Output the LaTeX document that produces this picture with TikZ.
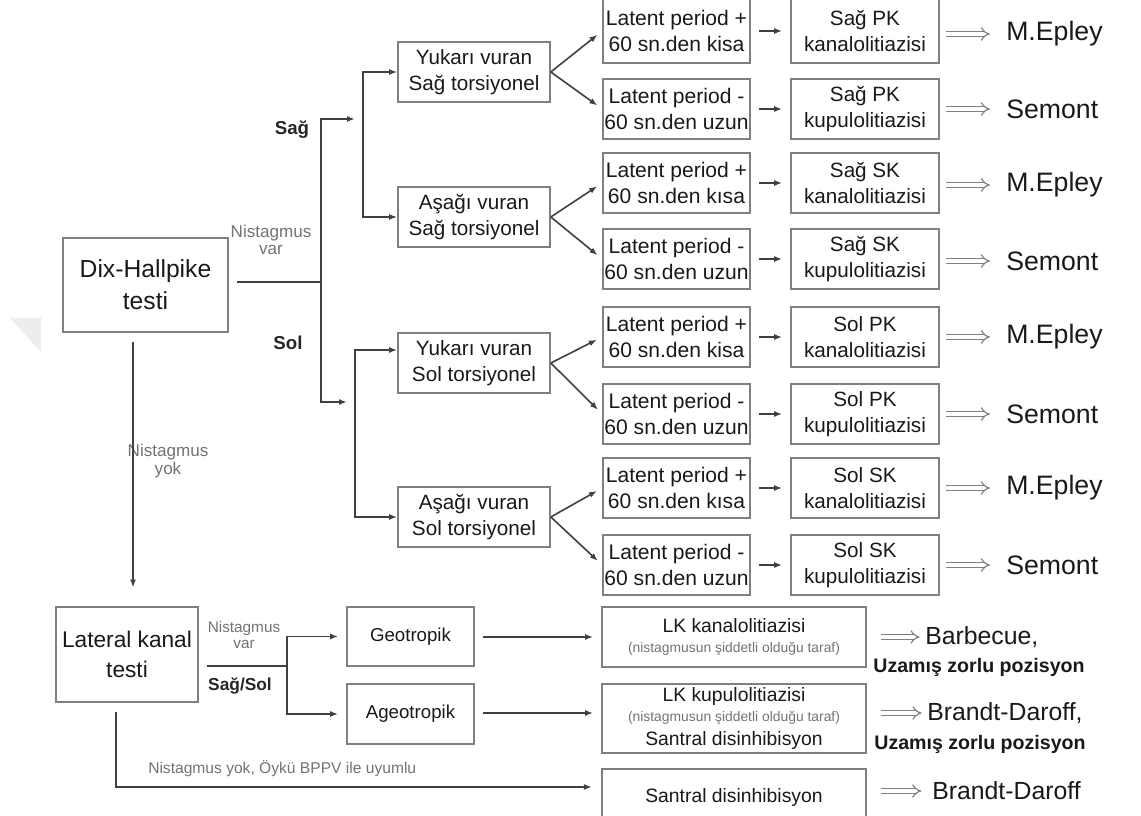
\documentclass[tikz,border=0pt]{standalone}
\usepackage{fontspec}
\setmainfont{Liberation Sans}
\usetikzlibrary{arrows.meta}

\begin{document}
\begin{tikzpicture}[x=0.75pt,y=0.75pt,yscale=-1,xscale=1,
	box/.style={draw=black!50, line width=1.2pt, align=center, text=black!90, inner sep=0pt},
	midbox/.style={box, minimum width=114pt, minimum height=45pt, font=\fontsize{15.5}{19}\selectfont},
	latbox/.style={box, minimum width=110.25pt, minimum height=45pt, font=\fontsize{15.8}{19}\selectfont},
	diagbox/.style={box, minimum width=111pt, minimum height=45pt, font=\fontsize{15.5}{19}\selectfont},
	lkbox/.style={box, minimum width=198pt, font=\fontsize{14.5}{18}\selectfont},
	trt/.style={anchor=west, inner sep=0pt, text=black!90, font=\fontsize{20}{24}\selectfont},
	lbl/.style={inner sep=0pt, align=center, text=black!55, font=\fontsize{12.8}{13}\selectfont},
	side/.style={inner sep=0pt, text=black!85, font=\bfseries\fontsize{14}{16}\selectfont},
	line/.style={draw=black!75, line width=1.2pt},
	arr/.style={line, -{Latex[length=6pt,width=4.5pt]}},
	dbl/.style={draw=black!50, double=white, double distance=2.6pt, line width=0.9pt, -{Implies}}]
		\clip (0,0) rectangle (1141,816);
		\fill[black!7] (10,318) -- (41,318) -- (41,352) -- cycle;

		\node[box, minimum width=123.75pt, minimum height=70.5pt, font=\fontsize{18.5}{24}\selectfont] (dix) at (145.5,285) {Dix-Hallpike\\testi};
		\node[box, minimum width=106.5pt, minimum height=71.25pt, font=\fontsize{17}{23}\selectfont] (lat) at (127,654.5) {Lateral kanal\\testi};

		\node[midbox] (yuk1) at (474,72) {Yukarı vuran\\Sağ torsiyonel};
		\node[midbox] (asa1) at (474,217) {Aşağı vuran\\Sağ torsiyonel};
		\node[midbox] (yuk2) at (474,363) {Yukarı vuran\\Sol torsiyonel};
		\node[midbox] (asa2) at (474,517) {Aşağı vuran\\Sol torsiyonel};

		\node[latbox, minimum height=48pt] (lt1) at (676.5,31) {Latent period +\\60 sn.den kisa};
		\node[latbox] (lt2) at (676.5,109) {Latent period -\\60 sn.den uzun};
		\node[latbox] (lt3) at (676.5,183) {Latent period +\\60 sn.den kısa};
		\node[latbox] (lt4) at (676.5,259) {Latent period -\\60 sn.den uzun};
		\node[latbox] (lt5) at (676.5,337) {Latent period +\\60 sn.den kisa};
		\node[latbox] (lt6) at (676.5,414) {Latent period -\\60 sn.den uzun};
		\node[latbox] (lt7) at (676.5,488) {Latent period +\\60 sn.den kısa};
		\node[latbox] (lt8) at (676.5,565) {Latent period -\\60 sn.den uzun};

		\node[diagbox, minimum height=48pt] (dg1) at (865,31) {Sağ PK\\kanalolitiazisi};
		\node[diagbox] (dg2) at (865,109) {Sağ PK\\kupulolitiazisi};
		\node[diagbox] (dg3) at (865,183) {Sağ SK\\kanalolitiazisi};
		\node[diagbox] (dg4) at (865,259) {Sağ SK\\kupulolitiazisi};
		\node[diagbox] (dg5) at (865,337) {Sol PK\\kanalolitiazisi};
		\node[diagbox] (dg6) at (865,414) {Sol PK\\kupulolitiazisi};
		\node[diagbox] (dg7) at (865,488) {Sol SK\\kanalolitiazisi};
		\node[diagbox] (dg8) at (865,565) {Sol SK\\kupulolitiazisi};

		\node[trt] (tr1) at (1006,34) {M.Epley};
		\node[trt] (tr2) at (1006,109) {Semont};
		\node[trt] (tr3) at (1006,185) {M.Epley};
		\node[trt] (tr4) at (1006,261) {Semont};
		\node[trt] (tr5) at (1006,337) {M.Epley};
		\node[trt] (tr6) at (1006,414) {Semont};
		\node[trt] (tr7) at (1006,488) {M.Epley};
		\node[trt] (tr8) at (1006,565) {Semont};

		\node[box, minimum width=95.25pt, minimum height=44.25pt, font=\fontsize{14}{17}\selectfont] (geo) at (410.5,636.5) {Geotropik};
		\node[box, minimum width=95.25pt, minimum height=45pt, font=\fontsize{14}{17}\selectfont] (ageo) at (410.5,714) {Ageotropik};

		\node[lkbox, minimum height=45pt] (lk1) at (734,637) {LK kanalolitiazisi\\[-3pt]{\color{black!55}\fontsize{10.4}{12}\selectfont (nistagmusun şiddetli olduğu taraf)}};
		\node[lkbox, minimum height=51.75pt] (lk2) at (734,718.5) {LK kupulolitiazisi\\[-3pt]{\color{black!55}\fontsize{10.4}{12}\selectfont (nistagmusun şiddetli olduğu taraf)}\\Santral disinhibisyon};
		\node[lkbox, minimum height=42pt] (san) at (734,797) {Santral disinhibisyon};

		\node[trt, font=\fontsize{18.6}{22}\selectfont] (tr9) at (925,637) {Barbecue,};
		\node[inner sep=0pt, text=black!90, font=\bfseries\fontsize{14.7}{17}\selectfont] (tu9) at (979,667) {Uzamış zorlu pozisyon};
		\node[trt, font=\fontsize{18.6}{22}\selectfont] (tr10) at (927,713) {Brandt-Daroff,};
		\node[inner sep=0pt, text=black!90, font=\bfseries\fontsize{14.7}{17}\selectfont] (tu10) at (980,744) {Uzamış zorlu pozisyon};
		\node[trt, font=\fontsize{18.6}{22}\selectfont] (tr11) at (932,791) {Brandt-Daroff};

		\node[lbl] (nv1) at (271,240) {Nistagmus\\var};
		\node[side] (sag) at (292,130) {Sağ};
		\node[side] (sol) at (288,343) {Sol};
		\node[lbl] (ny1) at (168,461) {Nistagmus\\yok};
		\node[lbl, font=\fontsize{11.5}{12}\selectfont] (nv2) at (244,635) {Nistagmus\\var};
		\node[side, font=\bfseries\fontsize{13}{15}\selectfont] (ss) at (240,686) {Sağ/Sol};
		\node[lbl, anchor=west, font=\fontsize{11.7}{13}\selectfont] (ny2) at (148,769) {Nistagmus yok, Öykü BPPV ile uyumlu};

		\coordinate (j1) at (321,282);
		\coordinate (s1) at (363,119);
		\coordinate (s2) at (355,402);
		\coordinate (s2a) at (355,350);
		\coordinate (j2) at (287,666);
		\coordinate (k1) at (133,0);
		\coordinate (k2) at (116,787);

		\draw[line, shorten <=6pt] (dix.east |- j1) -- (j1);
		\draw[arr, shorten >=6pt] (j1) |- (s1);
		\draw[arr, shorten >=6pt] (j1) |- (s2);
		\draw[arr] (s1) |- (yuk1);
		\draw[arr] (s1) |- (asa1);
		\draw[arr] (s2) |- (yuk2.west |- s2a);
		\draw[arr] (s2) |- (asa2);

		\draw[arr, shorten >=4.5pt] (yuk1.east) -- (lt1.west);
		\draw[arr, shorten >=4.5pt] (yuk1.east) -- (lt2.west);
		\draw[arr, shorten >=4.5pt] (asa1.east) -- (lt3.west);
		\draw[arr, shorten >=4.5pt] (asa1.east) -- (lt4.west);
		\draw[arr, shorten >=4.5pt] (yuk2.east) -- (lt5.west);
		\draw[arr, shorten >=4.5pt] (yuk2.east) -- (lt6.west);
		\draw[arr, shorten >=4.5pt] (asa2.east) -- (lt7.west);
		\draw[arr, shorten >=4.5pt] (asa2.east) -- (lt8.west);

		\draw[arr, shorten <=6pt, shorten >=6pt] (lt1) -- (dg1);
		\draw[arr, shorten <=6pt, shorten >=6pt] (lt2) -- (dg2);
		\draw[arr, shorten <=6pt, shorten >=6pt] (lt3) -- (dg3);
		\draw[arr, shorten <=6pt, shorten >=6pt] (lt4) -- (dg4);
		\draw[arr, shorten <=6pt, shorten >=6pt] (lt5) -- (dg5);
		\draw[arr, shorten <=6pt, shorten >=6pt] (lt6) -- (dg6);
		\draw[arr, shorten <=6pt, shorten >=6pt] (lt7) -- (dg7);
		\draw[arr, shorten <=6pt, shorten >=6pt] (lt8) -- (dg8);

		\draw[dbl, shorten <=4.5pt, shorten >=12pt] (dg1.east |- tr1) -- (tr1);
		\draw[dbl, shorten <=4.5pt, shorten >=12pt] (dg2.east |- tr2) -- (tr2);
		\draw[dbl, shorten <=4.5pt, shorten >=12pt] (dg3.east |- tr3) -- (tr3);
		\draw[dbl, shorten <=4.5pt, shorten >=12pt] (dg4.east |- tr4) -- (tr4);
		\draw[dbl, shorten <=4.5pt, shorten >=12pt] (dg5.east |- tr5) -- (tr5);
		\draw[dbl, shorten <=4.5pt, shorten >=12pt] (dg6.east |- tr6) -- (tr6);
		\draw[dbl, shorten <=4.5pt, shorten >=12pt] (dg7.east |- tr7) -- (tr7);
		\draw[dbl, shorten <=4.5pt, shorten >=12pt] (dg8.east |- tr8) -- (tr8);

		\draw[arr, shorten <=7pt, shorten >=14pt] (dix.south -| k1) -- (lat.north -| k1);
		\draw[line, shorten <=6pt] (lat.east |- j2) -- (j2);
		\draw[arr, shorten >=6pt] (j2) |- (geo);
		\draw[arr, shorten >=6pt] (j2) |- (ageo);
		\draw[arr, shorten <=6pt, shorten >=6pt] (geo.east |- lk1) -- (lk1);
		\draw[arr, shorten <=6pt, shorten >=6pt] (ageo.east |- tr10) -- (lk2.west |- tr10);
		\draw[arr, shorten <=7pt, shorten >=7pt] (lat.south -| k2) |- (san.west |- k2);

		\draw[dbl, shorten <=10.5pt, shorten >=4pt] (lk1.east |- tr9) -- (tr9);
		\draw[dbl, shorten <=10.5pt, shorten >=4pt] (lk2.east |- tr10) -- (tr10);
		\draw[dbl, shorten <=10.5pt, shorten >=8pt] (san.east |- tr11) -- (tr11);
\end{tikzpicture}
\end{document}
